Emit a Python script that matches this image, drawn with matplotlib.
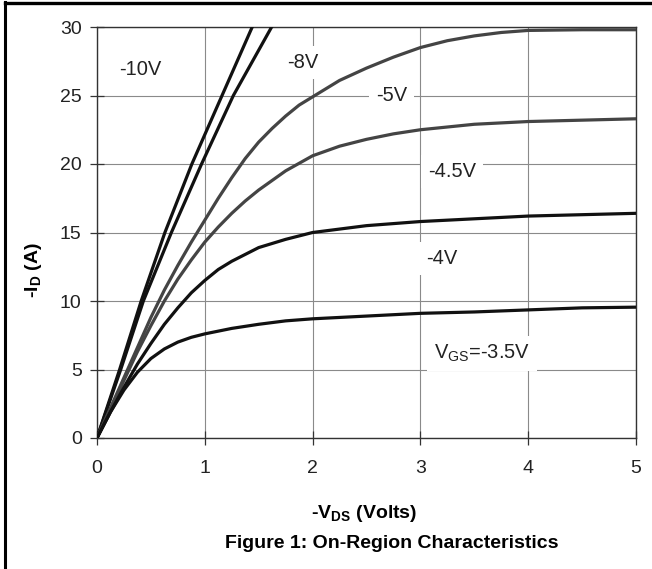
import matplotlib
matplotlib.use("Agg")
import matplotlib.pyplot as plt
from matplotlib.lines import Line2D

plt.rcParams["font.family"] = ["Liberation Sans", "DejaVu Sans"]
plt.rcParams["mathtext.fontset"] = "custom"
plt.rcParams["mathtext.rm"] = "Liberation Sans"
plt.rcParams["mathtext.bf"] = "Liberation Sans:bold"

# -V_DS (V) / -I_D (A) for each gate voltage
vds_35 = [0, .125, .25, .375, .5, .625, .75, .875, 1, 1.25, 1.5, 1.75, 2, 2.5, 3, 3.5, 4, 4.5, 5]
id_35 = [0, 1.9, 3.5, 4.8, 5.8, 6.5, 7.0, 7.35, 7.6, 8.0, 8.3, 8.55, 8.7, 8.9, 9.1, 9.2, 9.35, 9.5, 9.55]

vds_40 = [0, .125, .25, .375, .5, .625, .75, .875, 1, 1.125, 1.25, 1.5, 1.75, 2, 2.5, 3, 3.5, 4, 4.5, 5]
id_40 = [0, 1.9, 3.7, 5.4, 6.9, 8.3, 9.5, 10.6, 11.5, 12.3, 12.9, 13.9, 14.5, 15.0, 15.5, 15.8, 16.0, 16.2, 16.3, 16.4]

vds_45 = [0, .125, .25, .375, .5, .625, .75, .875, 1, 1.125, 1.25, 1.375, 1.5, 1.75, 2, 2.25, 2.5, 2.75, 3, 3.5, 4, 4.5, 5]
id_45 = [0, 2.1, 4.2, 6.3, 8.2, 10.0, 11.6, 13.0, 14.3, 15.4, 16.4, 17.3, 18.1, 19.5, 20.6, 21.3, 21.8, 22.2, 22.5, 22.9, 23.1, 23.2, 23.3]

vds_50 = [0, .125, .25, .375, .5, .625, .75, .875, 1, 1.125, 1.25, 1.375, 1.5, 1.625, 1.75, 1.875, 2,
          2.25, 2.5, 2.75, 3, 3.25, 3.5, 3.75, 4, 4.5, 5]
id_50 = [0, 2.2, 4.4, 6.6, 8.8, 10.8, 12.6, 14.3, 15.9, 17.5, 19.0, 20.4, 21.6, 22.6, 23.5, 24.3, 24.9,
         26.1, 27.0, 27.8, 28.5, 29.0, 29.35, 29.6, 29.75, 29.8, 29.8]

# steep curves, read along current
vds_10 = [0, 0.21, 0.41, 0.63, 0.88, 1.16, 1.44, 1.5]
vds_8 = [0, 0.22, 0.43, 0.69, 0.97, 1.265, 1.62, 1.7]
id_steep = [0, 5, 10, 15, 20, 25, 30, 31]

xticks = [0, 1, 2, 3, 4, 5]
yticks = [0, 5, 10, 15, 20, 25, 30]

W, H = 652, 569
fig = plt.figure(figsize=(W / 100, H / 100), dpi=100)
ax = fig.add_axes([97 / W, 1 - 438 / H, (636 - 97) / W, (438 - 27) / H])

dark = "#111111"
grey = "#444444"
ax.plot(vds_10, id_steep, color=dark, lw=2.3, zorder=3)
ax.plot(vds_8, id_steep, color=dark, lw=2.3, zorder=3)
ax.plot(vds_50, id_50, color=grey, lw=2.3, zorder=3)
ax.plot(vds_45, id_45, color=grey, lw=2.3, zorder=3)
ax.plot(vds_40, id_40, color=dark, lw=2.3, zorder=3)
ax.plot(vds_35, id_35, color=dark, lw=2.3, zorder=3)

ax.set_xlim(0, 5)
ax.set_ylim(0, 30)
ax.set_xticks(xticks)
ax.set_yticks(yticks)
ax.grid(True, color="#8a8a8a", lw=0.8, zorder=1)
ax.set_axisbelow(True)
for s in ax.spines.values():
    s.set_color("#333333")
    s.set_linewidth(1.0)
ax.tick_params(axis="both", direction="inout", length=10, width=0.9,
               color="#333333", labelsize=14, labelcolor="#222222")
ax.tick_params(axis="x", pad=11)
ax.tick_params(axis="y", pad=6)

box = dict(facecolor="white", edgecolor="none", pad=5)
lab = dict(fontsize=14.5, color="#222222", ha="center", va="center", zorder=2)
ax.text(0.40, 26.9, "-10V", bbox=box, **lab)
ax.text(1.91, 27.4, "-8V", bbox=box, **lab)
ax.text(2.73, 25.0, "-5V", bbox=box, **lab)
ax.text(3.29, 19.45, "-4.5V", bbox=box, **lab)
ax.text(3.20, 13.1, "-4V", bbox=box, **lab)
ax.text(3.57, 6.2, r"V$_{\mathrm{GS}}$=-3.5V", bbox=box, **lab)

fig.text(33 / W, 1 - 270 / H, r"-I$_{\mathbf{D}}$ (A)", rotation=90,
         fontsize=14, fontweight="bold", ha="center", va="center")
fig.text(364 / W, 1 - 513 / H, r"-V$_{\mathbf{DS}}$ (Volts)",
         fontsize=14, fontweight="bold", ha="center", va="center")
fig.text(392 / W, 1 - 543 / H, "Figure 1: On-Region Characteristics",
         fontsize=14, fontweight="bold", ha="center", va="center")

# frame lines along the left and top edges
fig.add_artist(Line2D([5 / W, 5 / W], [0, 1 - 2 / H], color="black", lw=2.2))
fig.add_artist(Line2D([5 / W, 1], [1 - 2.5 / H, 1 - 2.5 / H], color="black", lw=2.4))

fig.savefig("out.png", dpi=100)
